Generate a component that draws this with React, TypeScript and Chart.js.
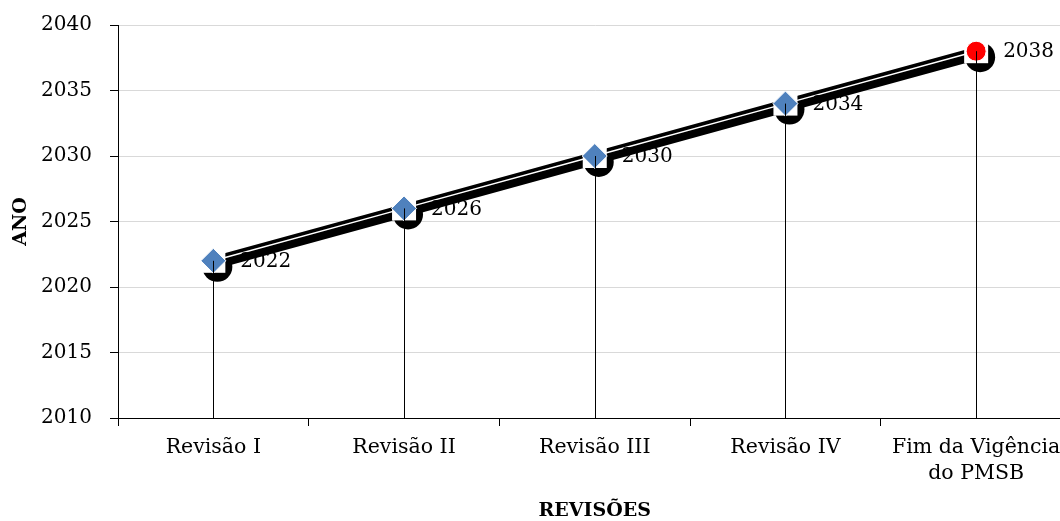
import React, { useEffect, useRef } from 'react';
import { Chart, registerables } from 'chart.js';

Chart.register(...registerables);

const categories: (string | string[])[] = ['Revisão I', 'Revisão II', 'Revisão III', 'Revisão IV', ['Fim da Vigência', 'do PMSB']];
const years = [2022, 2026, 2030, 2034, 2038];
const yTicks = [2010, 2015, 2020, 2025, 2030, 2035, 2040];
const markerColors = ['#4F81BD', '#4F81BD', '#4F81BD', '#4F81BD', '#FF0000'];
const markerStyles = ['rectRot', 'rectRot', 'rectRot', 'rectRot', 'circle'];
const markerRadii = [12.5, 12.5, 12.5, 12.5, 10];
const yTitle = 'ANO';
const xTitle = 'REVISÕES';

const FONT = "'DejaVu Serif', serif";
const CANVAS_W = 1085;
const CANVAS_H = 521;

const shadowPlugin = {
  id: 'shadowPlugin',
  beforeDatasetsDraw(chart: any) {
    const ctx = chart.ctx;
    const pts = chart.getDatasetMeta(0).data;
    ctx.save();
    ctx.strokeStyle = '#000';
    ctx.lineWidth = 13;
    ctx.lineJoin = 'round';
    ctx.beginPath();
    pts.forEach((p: any, i: number) => {
      if (i === 0) ctx.moveTo(p.x + 1, p.y + 2);
      else ctx.lineTo(p.x + 1, p.y + 2);
    });
    ctx.stroke();
    ctx.fillStyle = '#000';
    pts.forEach((p: any) => {
      ctx.beginPath();
      ctx.arc(p.x + 4, p.y + 6, 15, 0, Math.PI * 2);
      ctx.fill();
    });
    ctx.fillStyle = '#fff';
    pts.forEach((p: any) => {
      ctx.fillRect(p.x - 12, p.y - 12, 24, 24);
    });
    ctx.restore();
  },
  afterDatasetsDraw(chart: any) {
    const ctx = chart.ctx;
    const pts = chart.getDatasetMeta(0).data;
    const bottom = chart.chartArea.bottom;
    ctx.save();
    ctx.strokeStyle = '#000';
    ctx.lineWidth = 1;
    pts.forEach((p: any) => {
      const x = Math.round(p.x) + 0.5;
      ctx.beginPath();
      ctx.moveTo(x, p.y);
      ctx.lineTo(x, bottom);
      ctx.stroke();
    });
    ctx.fillStyle = '#000';
    ctx.font = `20px ${FONT}`;
    ctx.textAlign = 'left';
    ctx.textBaseline = 'middle';
    pts.forEach((p: any, i: number) => {
      ctx.fillText(String(years[i]), p.x + 27, p.y + 1);
    });
    ctx.restore();
  },
};

export default function App() {
  const ref = useRef<HTMLCanvasElement | null>(null);
  useEffect(() => {
    if (!ref.current) return;
    const chart = new Chart(ref.current, {
      type: 'line',
      data: {
        labels: categories as any,
        datasets: [
          {
            data: years,
            borderColor: '#ffffff',
            borderWidth: 1.5,
            pointStyle: markerStyles as any,
            pointRadius: markerRadii,
            pointBackgroundColor: markerColors,
            pointBorderColor: '#ffffff',
            pointBorderWidth: 1,
            tension: 0,
          },
        ],
      },
      options: {
        animation: false,
        responsive: false,
        events: [],
        layout: { padding: { top: 25, right: 8.5, bottom: 0, left: 0 } },
        plugins: { legend: { display: false }, tooltip: { enabled: false } },
        scales: {
          x: {
            type: 'category',
            offset: true,
            afterFit: (s: any) => {
              s.height = 103;
              s.paddingLeft = 0;
              s.paddingRight = 0;
            },
            grid: { offset: true, drawOnChartArea: false, tickLength: 8, tickColor: '#000', color: '#000' },
            border: { color: '#000', width: 1 },
            ticks: {
              color: '#000',
              padding: 9,
              maxRotation: 0,
              autoSkip: false,
              font: { family: FONT, size: 20.5, lineHeight: 1.27 },
            },
            title: {
              display: true,
              text: xTitle,
              color: '#000',
              padding: 0,
              font: { family: FONT, size: 19, weight: 'bold', lineHeight: 1 },
            },
          },
          y: {
            type: 'linear',
            min: 2010,
            max: 2040,
            afterFit: (s: any) => {
              s.width = 118;
              s.paddingTop = 0;
              s.paddingBottom = 0;
            },
            afterBuildTicks: (s: any) => { s.ticks = yTicks.map((v) => ({ value: v })); },
            grid: { color: '#d9d9d9', tickColor: '#000', tickLength: 8 },
            border: { color: '#000', width: 1 },
            ticks: {
              color: '#000',
              padding: 18,
              font: { family: FONT, size: 20 },
              callback: (v: any) => String(v),
            },
            title: {
              display: true,
              text: yTitle,
              color: '#000',
              padding: { top: 12, bottom: 0 },
              font: { family: FONT, size: 19, weight: 'bold', lineHeight: 1 },
            },
          },
        },
      },
      plugins: [shadowPlugin],
    });
    return () => chart.destroy();
  }, []);
  return (
    <div style={{ position: 'fixed', left: 0, top: 0, width: CANVAS_W, height: CANVAS_H, overflow: 'hidden', background: '#fff' }}>
      <canvas ref={ref} width={CANVAS_W} height={CANVAS_H} style={{ width: CANVAS_W, height: CANVAS_H, display: 'block' }} />
    </div>
  );
}
